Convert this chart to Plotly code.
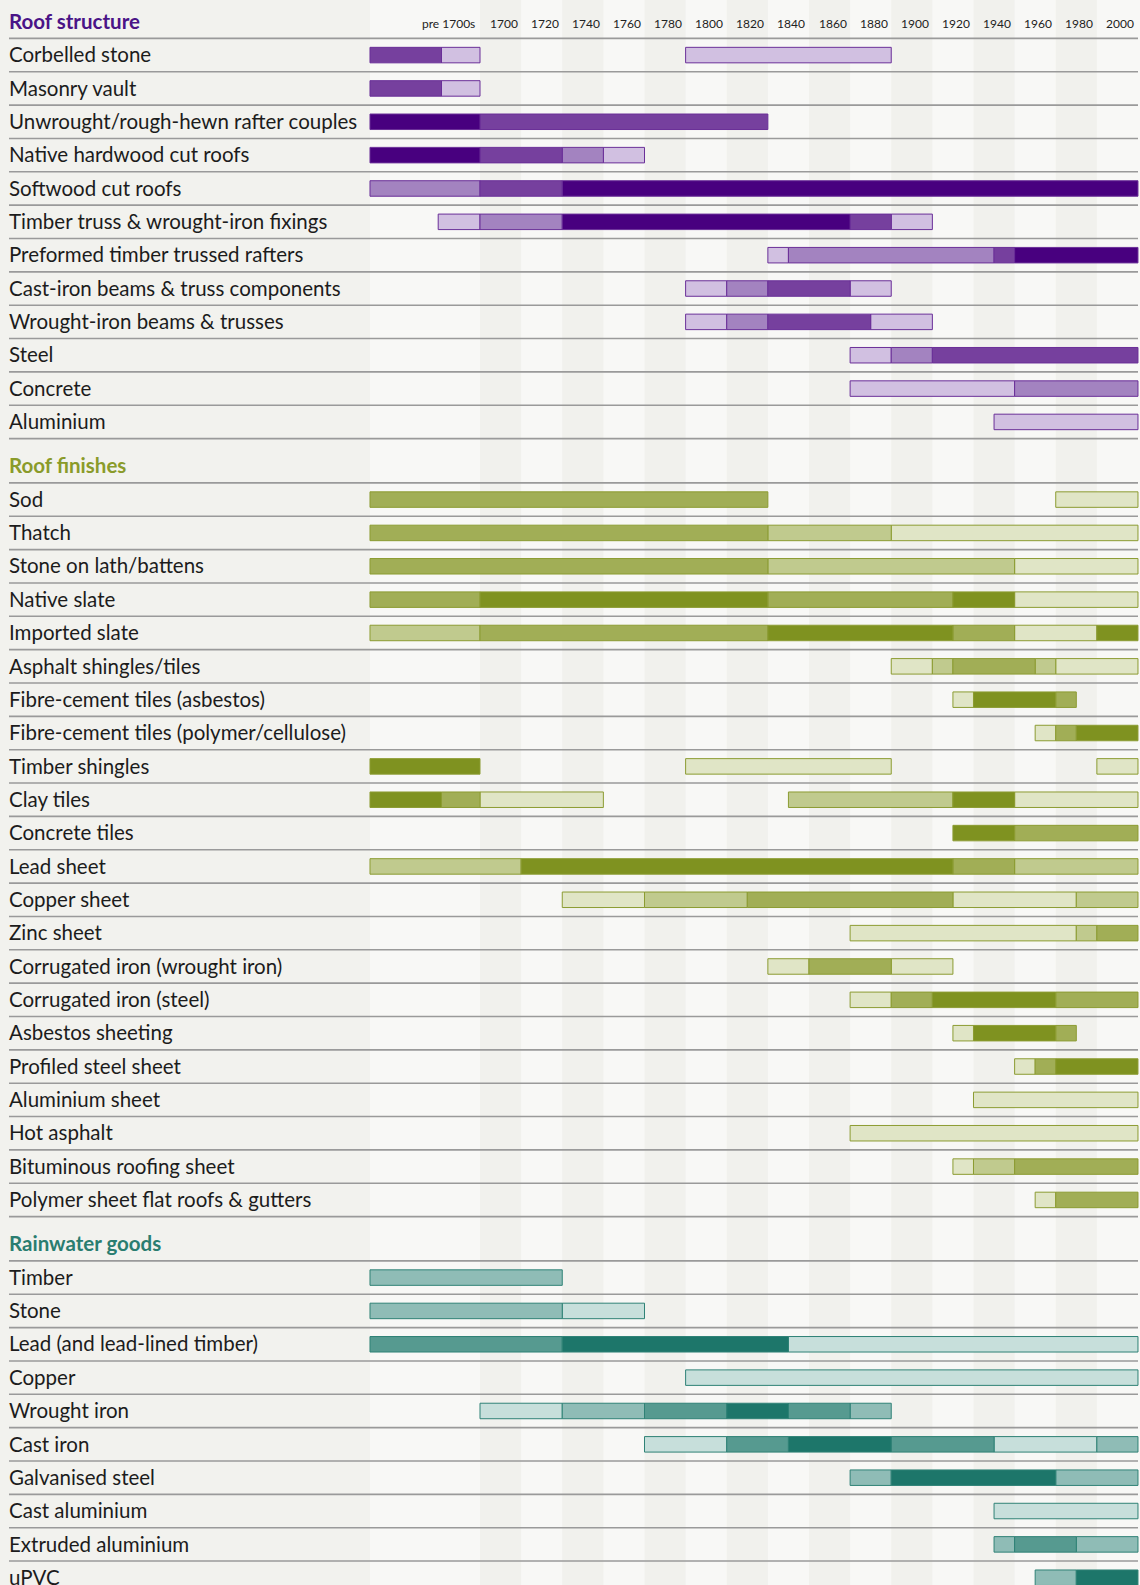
import plotly.graph_objects as go

# ---------------- data ----------------
PRE = 1600  # start of the "pre 1700s" column
tick_labels = ["pre 1700s", "1700", "1720", "1740", "1760", "1780", "1800", "1820", "1840",
               "1860", "1880", "1900", "1920", "1940", "1960", "1980", "2000"]
period_starts = [1700, 1720, 1740, 1760, 1780, 1800, 1820, 1840, 1860, 1880, 1900, 1920,
                 1940, 1960, 1980, 2000]

section_titles = ["Roof structure", "Roof finishes", "Rainwater goods"]

rs_rows = ["Corbelled stone", "Masonry vault", "Unwrought/rough-hewn rafter couples",
           "Native hardwood cut roofs", "Softwood cut roofs", "Timber truss & wrought-iron fixings",
           "Preformed timber trussed rafters", "Cast-iron beams & truss components",
           "Wrought-iron beams & trusses", "Steel", "Concrete", "Aluminium"]
# (start year, end year, intensity level 1=darkest .. 4=lightest)
rs_segments = [
    [(PRE, 1665, 2), (1665, 1700, 4), (1800, 1900, 4)],
    [(PRE, 1665, 2), (1665, 1700, 4)],
    [(PRE, 1700, 1), (1700, 1840, 2)],
    [(PRE, 1700, 1), (1700, 1740, 2), (1740, 1760, 3), (1760, 1780, 4)],
    [(PRE, 1700, 3), (1700, 1740, 2), (1740, 2020, 1)],
    [(1662, 1700, 4), (1700, 1740, 3), (1740, 1880, 1), (1880, 1900, 2), (1900, 1920, 4)],
    [(1840, 1850, 4), (1850, 1950, 3), (1950, 1960, 2), (1960, 2020, 1)],
    [(1800, 1820, 4), (1820, 1840, 3), (1840, 1880, 2), (1880, 1900, 4)],
    [(1800, 1820, 4), (1820, 1840, 3), (1840, 1890, 2), (1890, 1920, 4)],
    [(1880, 1900, 4), (1900, 1920, 3), (1920, 2020, 2)],
    [(1880, 1960, 4), (1960, 2020, 3)],
    [(1950, 2020, 4)],
]

rf_rows = ["Sod", "Thatch", "Stone on lath/battens", "Native slate", "Imported slate",
           "Asphalt shingles/tiles", "Fibre-cement tiles (asbestos)",
           "Fibre-cement tiles (polymer/cellulose)", "Timber shingles", "Clay tiles",
           "Concrete tiles", "Lead sheet", "Copper sheet", "Zinc sheet",
           "Corrugated iron (wrought iron)", "Corrugated iron (steel)", "Asbestos sheeting",
           "Profiled steel sheet", "Aluminium sheet", "Hot asphalt", "Bituminous roofing sheet",
           "Polymer sheet flat roofs & gutters"]
rf_segments = [
    [(PRE, 1840, 2), (1980, 2020, 4)],
    [(PRE, 1840, 2), (1840, 1900, 3), (1900, 2020, 4)],
    [(PRE, 1840, 2), (1840, 1960, 3), (1960, 2020, 4)],
    [(PRE, 1700, 2), (1700, 1840, 1), (1840, 1930, 2), (1930, 1960, 1), (1960, 2020, 4)],
    [(PRE, 1700, 3), (1700, 1840, 2), (1840, 1930, 1), (1930, 1960, 2), (1960, 2000, 4), (2000, 2020, 1)],
    [(1900, 1920, 4), (1920, 1930, 3), (1930, 1970, 2), (1970, 1980, 3), (1980, 2020, 4)],
    [(1930, 1940, 4), (1940, 1980, 1), (1980, 1990, 2)],
    [(1970, 1980, 4), (1980, 1990, 2), (1990, 2020, 1)],
    [(PRE, 1700, 1), (1800, 1900, 4), (2000, 2020, 4)],
    [(PRE, 1665, 1), (1665, 1700, 2), (1700, 1760, 4), (1850, 1930, 3), (1930, 1960, 1), (1960, 2020, 4)],
    [(1930, 1960, 1), (1960, 2020, 2)],
    [(PRE, 1720, 3), (1720, 1930, 1), (1930, 1960, 2), (1960, 2020, 3)],
    [(1740, 1780, 4), (1780, 1830, 3), (1830, 1930, 2), (1930, 1990, 4), (1990, 2020, 3)],
    [(1880, 1990, 4), (1990, 2000, 3), (2000, 2020, 2)],
    [(1840, 1860, 4), (1860, 1900, 2), (1900, 1930, 4)],
    [(1880, 1900, 4), (1900, 1920, 2), (1920, 1980, 1), (1980, 2020, 2)],
    [(1930, 1940, 4), (1940, 1980, 1), (1980, 1990, 2)],
    [(1960, 1970, 4), (1970, 1980, 2), (1980, 2020, 1)],
    [(1940, 2020, 4)],
    [(1880, 2020, 4)],
    [(1930, 1940, 4), (1940, 1960, 3), (1960, 2020, 2)],
    [(1970, 1980, 4), (1980, 2020, 2)],
]

rw_rows = ["Timber", "Stone", "Lead (and lead-lined timber)", "Copper", "Wrought iron",
           "Cast iron", "Galvanised steel", "Cast aluminium", "Extruded aluminium", "uPVC"]
rw_segments = [
    [(PRE, 1740, 3)],
    [(PRE, 1740, 3), (1740, 1780, 4)],
    [(PRE, 1740, 2), (1740, 1850, 1), (1850, 2020, 4)],
    [(1800, 2020, 4)],
    [(1700, 1740, 4), (1740, 1780, 3), (1780, 1820, 2), (1820, 1850, 1), (1850, 1880, 2), (1880, 1900, 3)],
    [(1780, 1820, 4), (1820, 1850, 2), (1850, 1900, 1), (1900, 1950, 2), (1950, 2000, 4), (2000, 2020, 3)],
    [(1880, 1900, 3), (1900, 1980, 1), (1980, 2020, 3)],
    [(1950, 2020, 4)],
    [(1950, 1960, 3), (1960, 1990, 2), (1990, 2020, 3)],
    [(1970, 1990, 3), (1990, 2020, 1)],
]

# ---------------- styling ----------------
W, H = 1140, 1585
PRE_W = 2.675          # width of the pre-1700s column in 20-year-column units
X_LEFT = -11.672       # axis range (column units) -> full figure width
X_RIGHT = 16.049
ROW_P = 33.35          # row pitch (px)
HEAD_TOP = 38.4        # first section header line
SEC_GAP = 44.3
BAR_H = 15.5

palettes = [
    ["#48007f", "#76409e", "#a383c0", "#d1c0e1"],
    ["#7f9220", "#a1ae56", "#c0ca8e", "#e0e5c6"],
    ["#1d766a", "#569a90", "#8fbcb6", "#c7dfdb"],
]
outlines = ["#6a2f98", "#8c9c32", "#2f8276"]
title_colors = ["#4a1487", "#8a9b2a", "#2a7d70"]
LABEL_FONT = "Lato, 'Open Sans', sans-serif"


def to_u(year):
    if year < 1700:
        return -PRE_W * (1700 - year) / 100.0
    return (year - 1700) / 20.0


sections = [(rs_rows, rs_segments), (rf_rows, rf_segments), (rw_rows, rw_segments)]

fig = go.Figure()
shapes = []
annotations = []

# backgrounds
shapes.append(dict(type="rect", xref="paper", yref="y", x0=0, x1=(to_u(PRE) - X_LEFT) / (X_RIGHT - X_LEFT),
                   y0=0, y1=H, fillcolor="#f2f2ee", line_width=0, layer="below"))
for i, ps in enumerate(period_starts):
    if i % 2 == 0:
        shapes.append(dict(type="rect", xref="x", yref="y", x0=to_u(ps), x1=to_u(ps + 20),
                           y0=0, y1=H, fillcolor="#f1f1ed", line_width=0, layer="below"))

# tick labels
tick_pos = [(to_u(PRE) + to_u(1700)) / 2 + 0.5] + [to_u(p) + 0.5 for p in period_starts]
for lab, xp in zip(tick_labels, tick_pos):
    annotations.append(dict(x=xp, y=23.2, xref="x", yref="y", text=lab, showarrow=False,
                            xanchor="center", yanchor="middle", xshift=3,
                            font=dict(family=LABEL_FONT, size=12, color="#222222")))

line_x0 = 9 / W
line_x1 = 1138 / W
y_line = HEAD_TOP
for s, (rows, segs) in enumerate(sections):
    pal = palettes[s]
    # header
    annotations.append(dict(x=line_x0, y=y_line - 17.8, xref="paper", yref="y", text="<b>%s</b>" % section_titles[s],
                            showarrow=False, xanchor="left", yanchor="middle", xshift=-2,
                            font=dict(family=LABEL_FONT, size=20.5, color=title_colors[s])))
    shapes.append(dict(type="line", xref="paper", yref="y", x0=line_x0, x1=line_x1, y0=y_line, y1=y_line,
                       line=dict(color="#9a9a9a", width=1.6), layer="above"))
    per_level = {1: ([], [], []), 2: ([], [], []), 3: ([], [], []), 4: ([], [], [])}
    for r, (name, rsegs) in enumerate(zip(rows, segs)):
        yc = y_line + ROW_P * (r + 0.5)
        annotations.append(dict(x=line_x0, y=yc - 0.8, xref="paper", yref="y", text=name, showarrow=False,
                                xanchor="left", yanchor="middle", xshift=-2,
                                font=dict(family=LABEL_FONT, size=20.5, color="#1c1c1c")))
        yb = y_line + ROW_P * (r + 1)
        shapes.append(dict(type="line", xref="paper", yref="y", x0=line_x0, x1=line_x1, y0=yb, y1=yb,
                           line=dict(color="#9a9a9a", width=1.6), layer="above"))
        for (a, b, lev) in rsegs:
            per_level[lev][0].append(to_u(a))
            per_level[lev][1].append(to_u(b) - to_u(a))
            per_level[lev][2].append(yc)
    for lev in (4, 3, 2, 1):
        base, length, ys = per_level[lev]
        if not base:
            continue
        fig.add_trace(go.Bar(orientation="h", base=base, x=length, y=ys, width=BAR_H,
                             marker=dict(color=pal[lev - 1], line=dict(color=outlines[s], width=1)),
                             hoverinfo="skip", showlegend=False))
    y_line = y_line + ROW_P * len(rows) + SEC_GAP

fig.update_layout(
    width=W, height=H,
    margin=dict(l=0, r=0, t=0, b=0),
    paper_bgcolor="#f8f8f6", plot_bgcolor="#f8f8f6",
    barmode="overlay",
    xaxis=dict(range=[X_LEFT, X_RIGHT], visible=False, fixedrange=True),
    yaxis=dict(range=[H, 0], visible=False, fixedrange=True),
    shapes=shapes, annotations=annotations,
)
fig.write_html("out.html", config={"displayModeBar": False},
               post_script="document.body.style.margin='0';document.body.style.overflow='hidden';")
